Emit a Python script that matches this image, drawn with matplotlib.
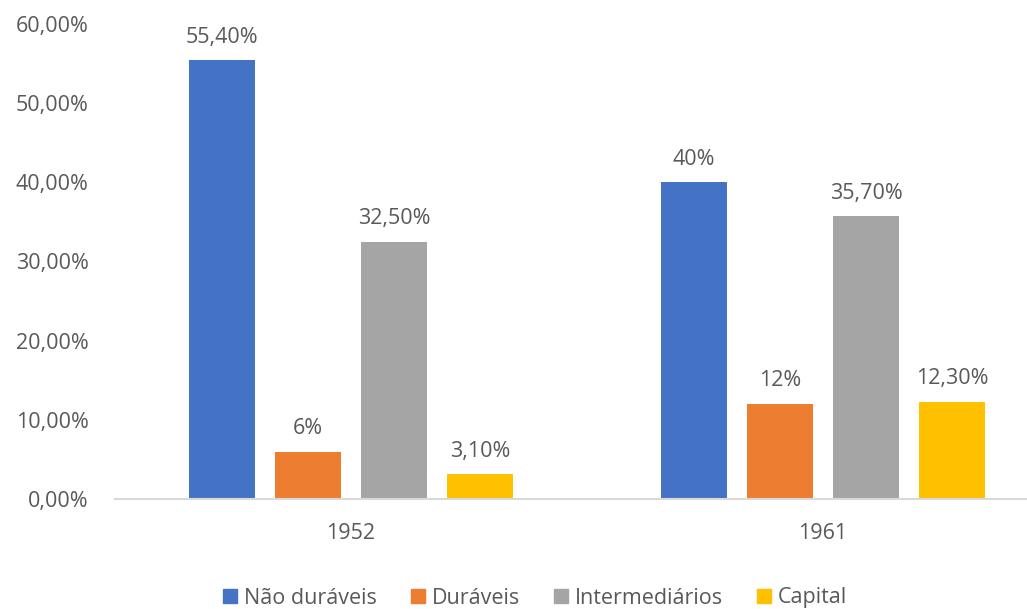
import numpy as np
import matplotlib.pyplot as plt
from matplotlib.patches import Patch

years = ["1952", "1961"]
series = ["Não duráveis", "Duráveis", "Intermediários", "Capital"]
values = {
    "Não duráveis": [55.4, 40.0],
    "Duráveis": [6.0, 12.0],
    "Intermediários": [32.5, 35.7],
    "Capital": [3.1, 12.3],
}
labels = {
    "Não duráveis": ["55,40%", "40%"],
    "Duráveis": ["6%", "12%"],
    "Intermediários": ["32,50%", "35,70%"],
    "Capital": ["3,10%", "12,30%"],
}
colors = ["#4472C4", "#ED7D31", "#A5A5A5", "#FFC000"]
yticks = [0, 10, 20, 30, 40, 50, 60]

plt.rcParams['font.family'] = ['Open Sans', 'DejaVu Sans']
txt = "#595959"
fs = 15.5

W, H = 1027, 609
fig = plt.figure(figsize=(W / 100, H / 100), dpi=100)
ax = fig.add_axes([115 / W, (H - 499) / H, 944 / W, 475 / H])

x = np.arange(len(years))
width = 0.141
step = 0.182
for i, (name, c) in enumerate(zip(series, colors)):
    pos = x + (i - 1.5) * step
    ax.bar(pos, values[name], width=width, color=c, zorder=2)
    for px, v, lab in zip(pos, values[name], labels[name]):
        ax.annotate(lab, (px, v), xytext=(0, 9), textcoords="offset points",
                    ha="center", va="bottom", fontsize=fs, color=txt)

ax.set_xlim(-0.5, 1.5)
ax.set_ylim(0, 60)
ax.set_yticks(yticks)
ax.set_yticklabels([f"{t},00%" for t in yticks])
ax.set_xticks(x)
ax.set_xticklabels(years)
ax.tick_params(axis="y", length=0, pad=19, labelsize=fs, labelcolor=txt)
ax.tick_params(axis="x", length=0, pad=17, labelsize=fs, labelcolor=txt)
for s in ["top", "right", "left"]:
    ax.spines[s].set_visible(False)
ax.spines["bottom"].set_color("#D9D9D9")
ax.spines["bottom"].set_linewidth(1.5)

handles = [Patch(color=c, label=n) for n, c in zip(series, colors)]
fig.legend(handles=handles, loc="center", bbox_to_anchor=(535 / W, 11 / H),
           ncol=4, frameon=False, fontsize=fs, labelcolor=txt,
           handlelength=0.65, handleheight=0.65, handletextpad=0.3,
           columnspacing=1.6)

fig.savefig("out.png", dpi=100)
